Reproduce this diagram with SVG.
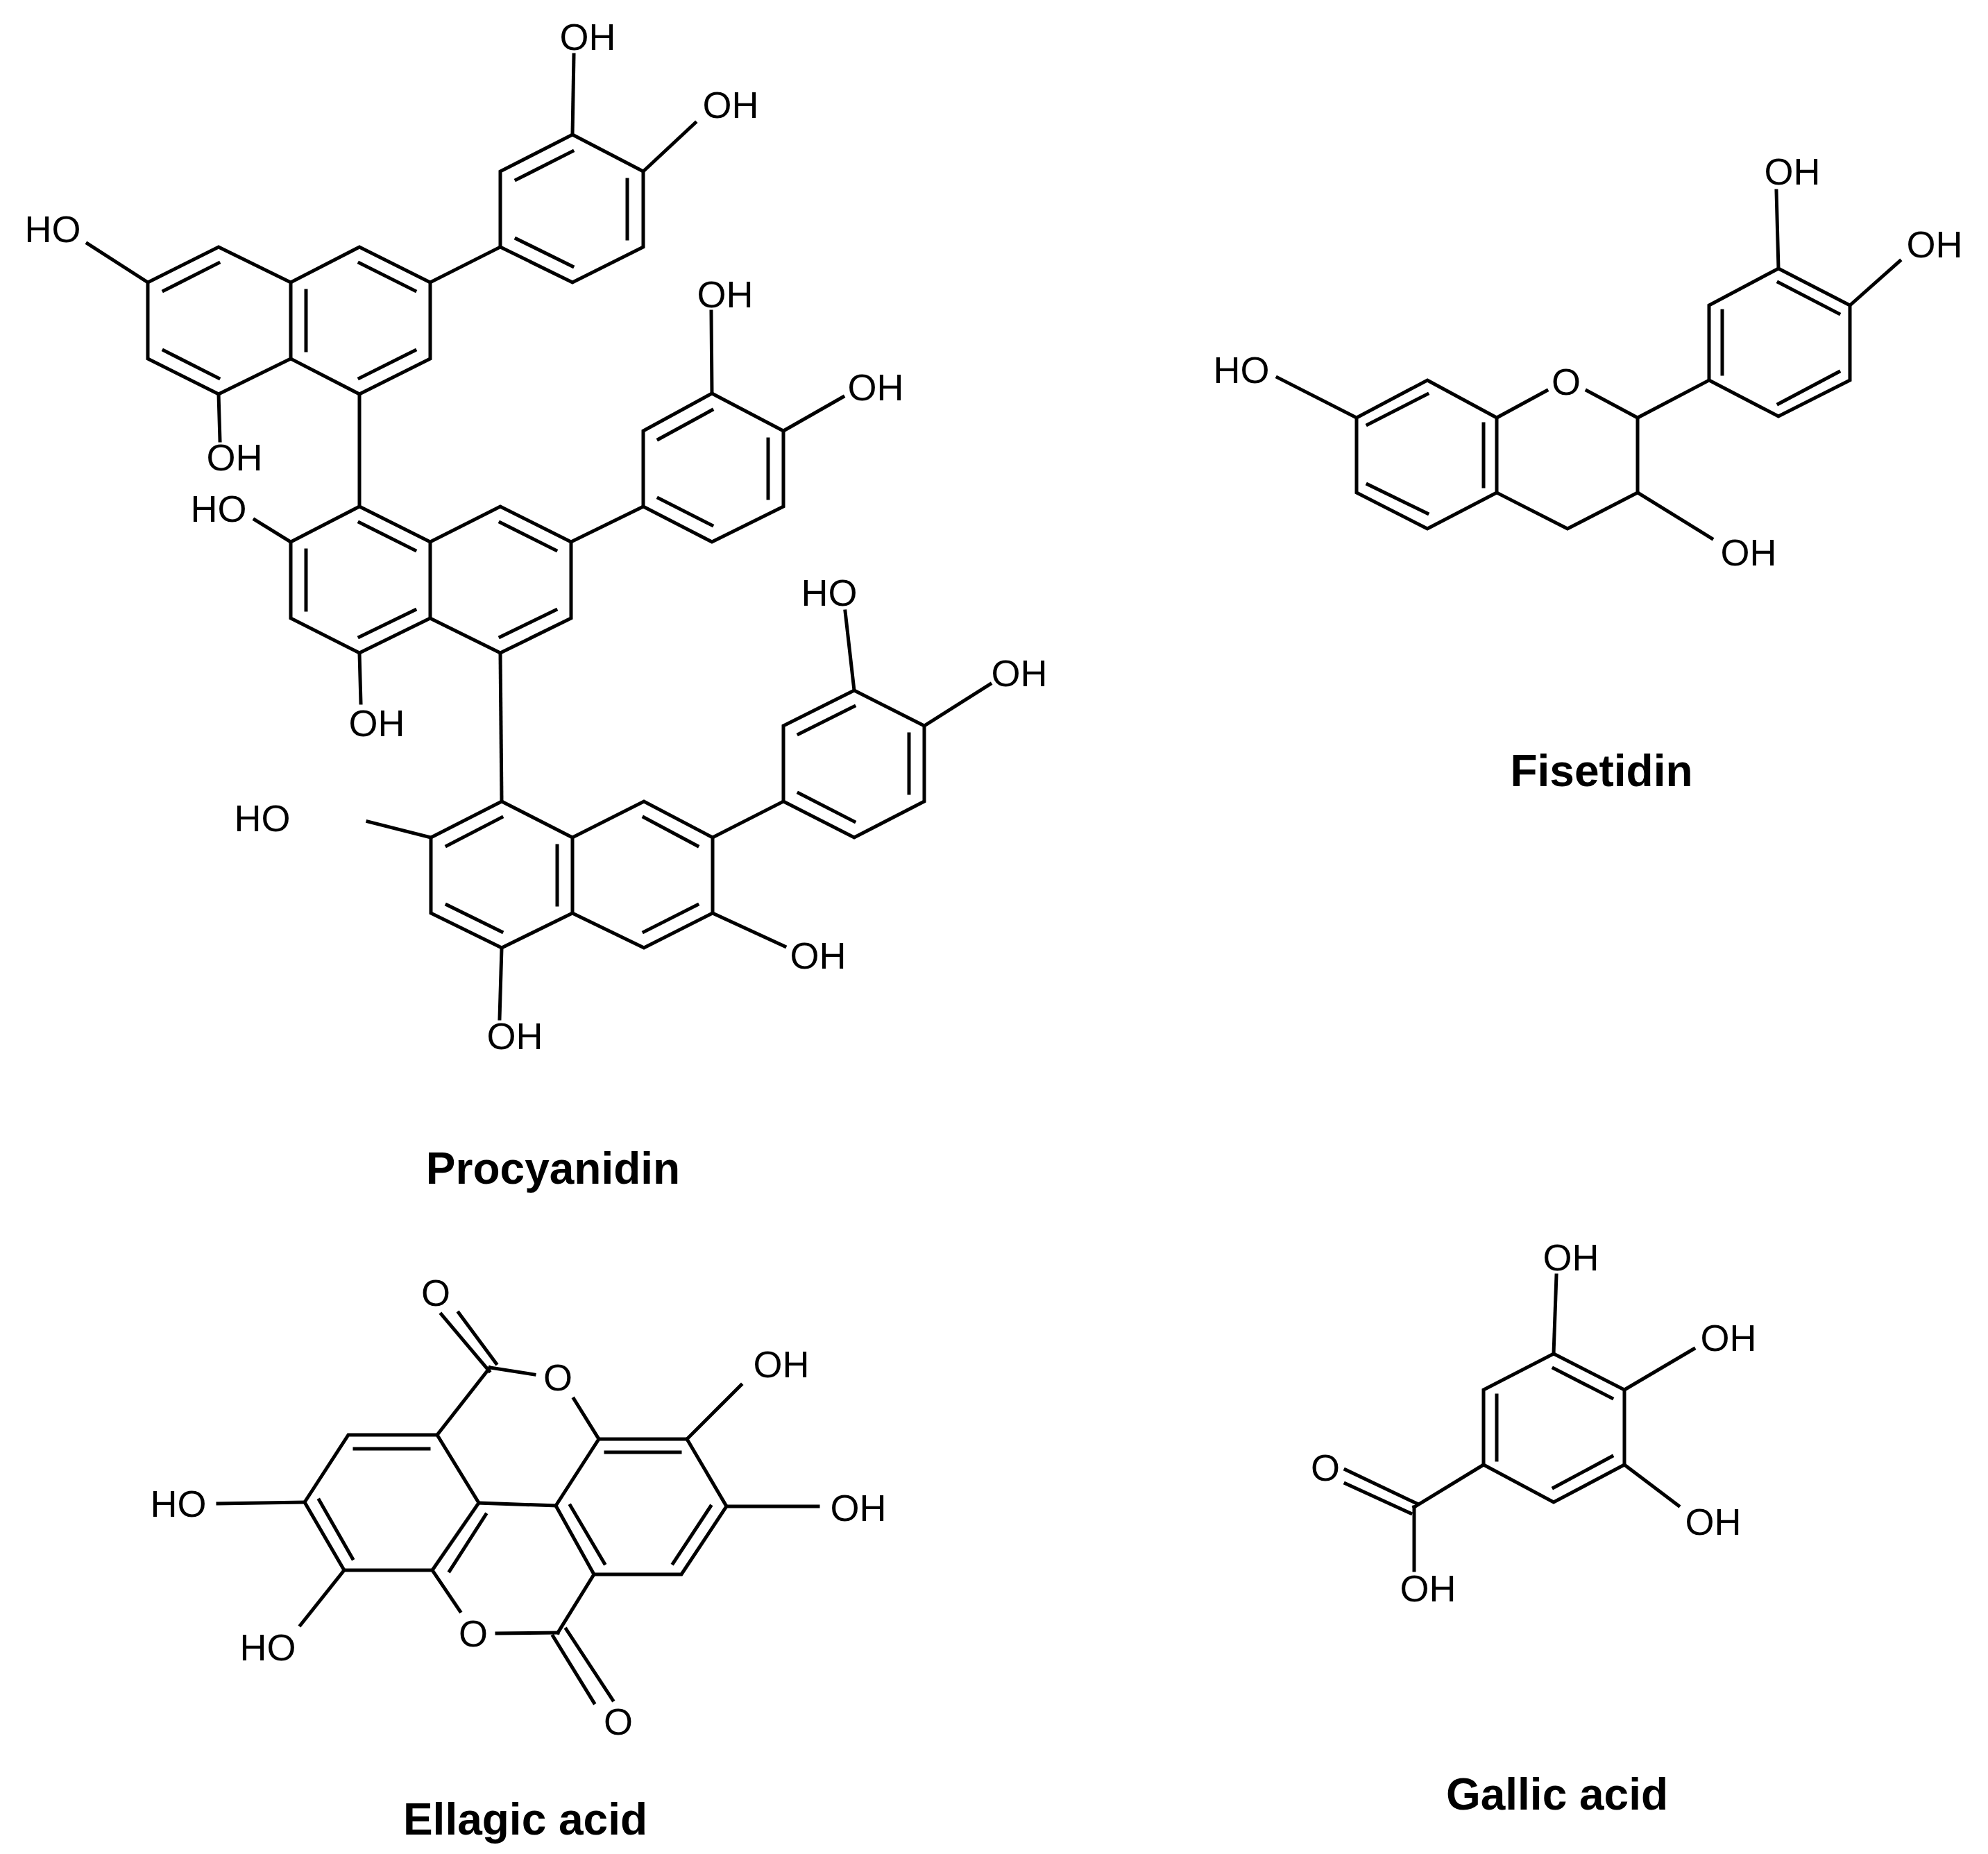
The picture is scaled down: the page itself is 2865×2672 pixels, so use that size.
<svg xmlns="http://www.w3.org/2000/svg" width="2865" height="2672" viewBox="0 0 2865 2672">
<style>
.b{stroke:#000;stroke-width:5;fill:none;stroke-linecap:square;stroke-linejoin:miter}
.t{font-family:"Liberation Sans",Arial,sans-serif;font-size:54px;fill:#000;text-anchor:middle;dominant-baseline:central}
.n{font-family:"Liberation Sans",Arial,sans-serif;font-size:64px;font-weight:bold;fill:#000;text-anchor:middle;dominant-baseline:central}
</style>
<rect width="2865" height="2672" fill="#fff"/>
<g id="procyanidin">
<g class="b">
<polygon points="315,356 419,407 419,517 315,568 213,517 213,407"/>
<polyline points="419,407 518,356 620,407 620,517 518,568 419,517"/>
<polygon points="825,194 927,247 927,356 825,407 721,356 721,247"/>
<line x1="620" y1="407" x2="721" y2="356"/>
<line x1="825" y1="194" x2="827" y2="79"/>
<line x1="927" y1="247" x2="1002" y2="177"/>
<line x1="213" y1="407" x2="126" y2="351"/>
<line x1="315" y1="568" x2="317" y2="635"/>
<line x1="518" y1="568" x2="518" y2="730"/>
<line x1="236" y1="419" x2="315" y2="379"/>
<line x1="236" y1="505" x2="315" y2="545"/>
<line x1="518" y1="379" x2="598" y2="419"/>
<line x1="598" y1="505" x2="518" y2="545"/>
<line x1="441" y1="419" x2="441" y2="505"/>
<line x1="744" y1="259" x2="825" y2="218"/>
<line x1="904" y1="259" x2="904" y2="344"/>
<line x1="744" y1="344" x2="825" y2="384"/>

<polygon points="518,730 620,781 620,891 518,941 419,891 419,781"/>
<polyline points="620,781 721,730 823,781 823,891 721,941 620,891"/>
<polygon points="1026,567 1129,621 1129,730 1026,781 927,730 927,621"/>
<line x1="823" y1="781" x2="927" y2="730"/>
<line x1="1026" y1="567" x2="1025" y2="449"/>
<line x1="1129" y1="621" x2="1215" y2="572"/>
<line x1="419" y1="781" x2="367" y2="749"/>
<line x1="518" y1="941" x2="520" y2="1013"/>
<line x1="721" y1="941" x2="723" y2="1155"/>
<line x1="518" y1="753" x2="598" y2="793"/>
<line x1="441" y1="793" x2="441" y2="879"/>
<line x1="518" y1="918" x2="598" y2="879"/>
<line x1="721" y1="753" x2="801" y2="793"/>
<line x1="801" y1="879" x2="721" y2="918"/>
<line x1="949" y1="633" x2="1026" y2="591"/>
<line x1="1107" y1="633" x2="1107" y2="718"/>
<line x1="949" y1="718" x2="1026" y2="757"/>

<polygon points="723,1155 825,1207 825,1316 723,1366 621,1316 621,1207"/>
<polyline points="825,1207 928,1155 1027,1207 1027,1316 928,1366 825,1316"/>
<polygon points="1231,995 1332,1046 1332,1155 1231,1207 1129,1155 1129,1046"/>
<line x1="1027" y1="1207" x2="1129" y2="1155"/>
<line x1="1231" y1="995" x2="1218" y2="881"/>
<line x1="1332" y1="1046" x2="1427" y2="986"/>
<line x1="621" y1="1207" x2="530" y2="1184"/>
<line x1="1027" y1="1316" x2="1131" y2="1364"/>
<line x1="723" y1="1366" x2="720" y2="1468"/>
<line x1="644" y1="1219" x2="723" y2="1178"/>
<line x1="803" y1="1219" x2="803" y2="1304"/>
<line x1="644" y1="1304" x2="723" y2="1343"/>
<line x1="928" y1="1178" x2="1005" y2="1219"/>
<line x1="1005" y1="1304" x2="928" y2="1343"/>
<line x1="1151" y1="1058" x2="1231" y2="1018"/>
<line x1="1310" y1="1058" x2="1310" y2="1143"/>
<line x1="1151" y1="1143" x2="1231" y2="1184"/>
</g>
<text class="t" x="847" y="53">OH</text>
<text class="t" x="1053" y="151">OH</text>
<text class="t" x="76" y="330">HO</text>
<text class="t" x="338" y="659">OH</text>
<text class="t" x="1045" y="424">OH</text>
<text class="t" x="1262" y="558">OH</text>
<text class="t" x="315" y="733">HO</text>
<text class="t" x="543" y="1042">OH</text>
<text class="t" x="1195" y="854">HO</text>
<text class="t" x="1469" y="970">OH</text>
<text class="t" x="378" y="1179">HO</text>
<text class="t" x="1179" y="1377">OH</text>
<text class="t" x="742" y="1493">OH</text>
<text class="n" x="797" y="1684">Procyanidin</text>
</g>

<g id="fisetidin">
<g class="b">
<polygon points="2057,548 2157,602 2157,710 2057,762 1955,710 1955,602"/>
<line x1="2157" y1="602" x2="2229" y2="563"/>
<line x1="2287" y1="563" x2="2360" y2="602"/>
<polyline points="2360,602 2360,710 2259,762 2157,710"/>
<polygon points="2563,387 2666,440 2666,548 2563,600 2463,548 2463,440"/>
<line x1="2360" y1="602" x2="2463" y2="548"/>
<line x1="2563" y1="387" x2="2560" y2="275"/>
<line x1="2666" y1="440" x2="2738" y2="376"/>
<line x1="1955" y1="602" x2="1841" y2="544"/>
<line x1="2360" y1="710" x2="2467" y2="776"/>
<line x1="1971" y1="612" x2="2057" y2="568"/>
<line x1="2138" y1="611" x2="2138" y2="701"/>
<line x1="1971" y1="698" x2="2057" y2="740"/>
<line x1="2563" y1="407" x2="2650" y2="452"/>
<line x1="2482" y1="448" x2="2482" y2="539"/>
<line x1="2563" y1="582" x2="2650" y2="536"/>
</g>
<text class="t" x="2257" y="550">O</text>
<text class="t" x="2583" y="247">OH</text>
<text class="t" x="2788" y="352">OH</text>
<text class="t" x="1789" y="533">HO</text>
<text class="t" x="2520" y="796">OH</text>
<text class="n" x="2308" y="1111">Fisetidin</text>
</g>

<g id="ellagic-acid">
<g class="b">
<polygon points="502,2068 630,2068 690,2166 623,2263 496,2263 439,2165"/>
<polygon points="863,2074 990,2074 1047,2171 982,2269 856,2269 801,2170"/>
<line x1="690" y1="2166" x2="801" y2="2170"/>
<line x1="630" y1="2068" x2="706" y2="1971"/>
<line x1="706" y1="1971" x2="770" y2="1981"/>
<line x1="827" y1="2016" x2="863" y2="2074"/>
<line x1="636" y1="1894" x2="705" y2="1976"/>
<line x1="661" y1="1892" x2="715" y2="1965"/>
<line x1="856" y1="2269" x2="804" y2="2353"/>
<line x1="804" y1="2353" x2="716" y2="2354"/>
<line x1="663" y1="2322" x2="623" y2="2263"/>
<line x1="797" y1="2358" x2="856" y2="2454"/>
<line x1="816" y1="2348" x2="883" y2="2450"/>
<line x1="990" y1="2074" x2="1068" y2="1996"/>
<line x1="1047" y1="2171" x2="1179" y2="2171"/>
<line x1="439" y1="2165" x2="314" y2="2167"/>
<line x1="496" y1="2263" x2="433" y2="2342"/>
<line x1="511" y1="2088" x2="618" y2="2088"/>
<line x1="460" y1="2162" x2="508" y2="2246"/>
<line x1="700" y1="2183" x2="648" y2="2264"/>
<line x1="873" y1="2093" x2="980" y2="2093"/>
<line x1="1024" y1="2171" x2="970" y2="2253"/>
<line x1="822" y1="2170" x2="871" y2="2253"/>
</g>
<text class="t" x="628" y="1863">O</text>
<text class="t" x="804" y="1985">O</text>
<text class="t" x="682" y="2354">O</text>
<text class="t" x="891" y="2481">O</text>
<text class="t" x="1126" y="1966">OH</text>
<text class="t" x="1237" y="2173">OH</text>
<text class="t" x="257" y="2167">HO</text>
<text class="t" x="386" y="2374">HO</text>
<text class="n" x="757" y="2622">Ellagic acid</text>
</g>

<g id="gallic-acid">
<g class="b">
<polygon points="2239,1951 2341,2003 2341,2111 2239,2165 2138,2111 2138,2003"/>
<line x1="2239" y1="1951" x2="2243" y2="1838"/>
<line x1="2341" y1="2003" x2="2441" y2="1944"/>
<line x1="2341" y1="2111" x2="2419" y2="2170"/>
<line x1="2138" y1="2111" x2="2038" y2="2172"/>
<line x1="2038" y1="2172" x2="2038" y2="2263"/>
<line x1="1939" y1="2118" x2="2042" y2="2167"/>
<line x1="1939" y1="2138" x2="2033" y2="2181"/>
<line x1="2239" y1="1972" x2="2323" y2="2015"/>
<line x1="2157" y1="2011" x2="2157" y2="2104"/>
<line x1="2239" y1="2144" x2="2323" y2="2099"/>
</g>
<text class="t" x="2264" y="1812">OH</text>
<text class="t" x="2491" y="1928">OH</text>
<text class="t" x="2469" y="2193">OH</text>
<text class="t" x="1910" y="2115">O</text>
<text class="t" x="2058" y="2289">OH</text>
<text class="n" x="2244" y="2586">Gallic acid</text>
</g>
</svg>
